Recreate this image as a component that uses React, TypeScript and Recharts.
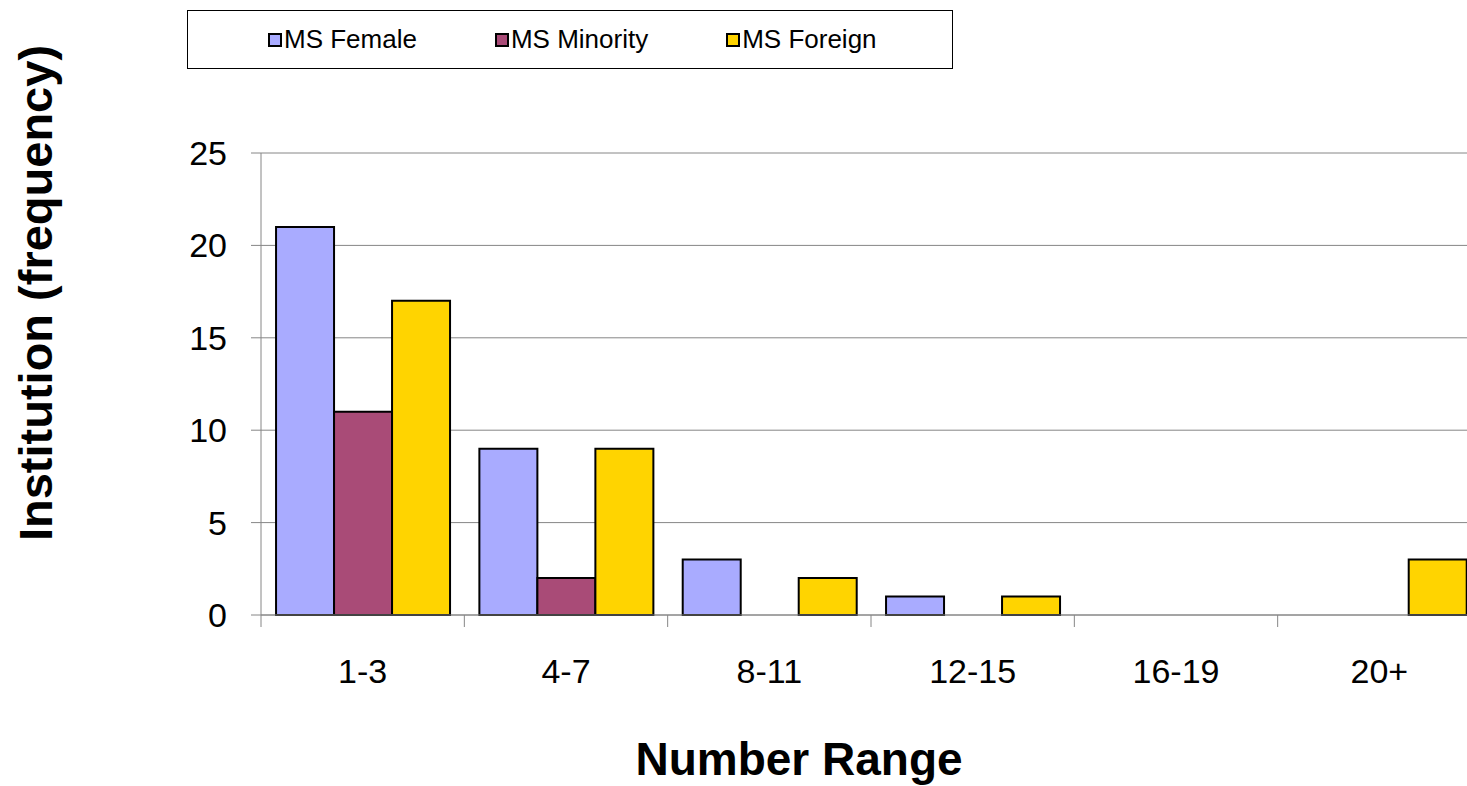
import { BarChart, Bar, XAxis, YAxis, CartesianGrid, Legend } from "recharts";

const ranges = ["1-3", "4-7", "8-11", "12-15", "16-19", "20+"];
const msFemale = [21, 9, 3, 1, 0, 0];
const msMinority = [11, 2, 0, 0, 0, 0];
const msForeign = [17, 9, 2, 1, 0, 3];
const yTicks = [0, 5, 10, 15, 20, 25];
const seriesNames = ["MS Female", "MS Minority", "MS Foreign"];

const FONT = '"Liberation Sans", Arial, sans-serif';
const GRID = "#868686";

const data = ranges.map((range, i) => ({
  range,
  female: msFemale[i],
  minority: msMinority[i],
  foreign: msForeign[i],
}));

// label in the middle of the band, tick mark on the band's left edge
function RangeTick(props: any) {
  const { x, y, payload } = props;
  const half = payload.offset ?? 0;
  return (
    <g>
      <line x1={x - half} x2={x - half} y1={y} y2={y + 12} stroke={GRID} />
      <text x={x} y={y + 68} textAnchor="middle" fontSize={34} fontFamily={FONT} fill="#000">
        {payload.value}
      </text>
    </g>
  );
}

function XTitle() {
  return (
    <text x={799} y={775} textAnchor="middle" fontSize={46} fontWeight="bold" fontFamily={FONT} fill="#000">
      Number Range
    </text>
  );
}

function YTitle() {
  return (
    <text
      x={52}
      y={293}
      transform="rotate(-90, 52, 293)"
      textAnchor="middle"
      fontSize={47}
      fontWeight="bold"
      fontFamily={FONT}
      fill="#000"
    >
      Institution (frequency)
    </text>
  );
}

function LegendBox(props: any) {
  const { payload = [] } = props;
  // keep series order, recharts sorts the payload by name
  const items = [...payload].sort(
    (a: any, b: any) => seriesNames.indexOf(a.value) - seriesNames.indexOf(b.value)
  );
  return (
    <div
      style={{
        boxSizing: "border-box",
        width: 766,
        height: 59,
        border: "1px solid #000",
        background: "#fff",
        display: "flex",
        alignItems: "center",
        paddingLeft: 80,
        gap: 78,
        fontFamily: FONT,
        fontSize: 26,
        color: "#000",
      }}
    >
      {items.map((entry: any) => (
        <div key={entry.value} style={{ display: "flex", alignItems: "center" }}>
          <span
            style={{
              display: "inline-block",
              width: 10,
              height: 10,
              border: "2px solid #000",
              background: entry.color,
              marginRight: 2,
            }}
          />
          <span>{entry.value}</span>
        </div>
      ))}
    </div>
  );
}

export default function App() {
  return (
    <div style={{ position: "fixed", left: 0, top: 0, width: 1467, height: 786, overflow: "hidden", background: "#fff" }}>
      <BarChart
        width={1500}
        height={786}
        data={data}
        margin={{ top: 153, right: 19, bottom: 0, left: 0 }}
        barCategoryGap="7.4%"
        barGap={0}
      >
        <CartesianGrid vertical={false} stroke={GRID} />
        <XAxis
          dataKey="range"
          height={171}
          interval={0}
          tickSize={0}
          tickMargin={0}
          tickLine={false}
          axisLine={{ stroke: GRID }}
          tick={<RangeTick />}
          label={<XTitle />}
        />
        <YAxis
          width={261}
          domain={[0, 25]}
          ticks={yTicks}
          interval={0}
          tickSize={10}
          tickMargin={24}
          tick={{ fontSize: 34, fill: "#000", fontFamily: FONT }}
          tickLine={{ stroke: GRID }}
          axisLine={{ stroke: GRID }}
          label={<YTitle />}
        />
        <Legend
          layout="horizontal"
          verticalAlign="middle"
          align="center"
          wrapperStyle={{ left: 187, top: 10, width: 766, height: 59 }}
          content={<LegendBox />}
        />
        <Bar dataKey="female" name={seriesNames[0]} fill="#a9abff" stroke="#000" strokeWidth={2} isAnimationActive={false} />
        <Bar dataKey="minority" name={seriesNames[1]} fill="#a94b77" stroke="#000" strokeWidth={2} isAnimationActive={false} />
        <Bar dataKey="foreign" name={seriesNames[2]} fill="#ffd400" stroke="#000" strokeWidth={2} isAnimationActive={false} />
      </BarChart>
    </div>
  );
}
